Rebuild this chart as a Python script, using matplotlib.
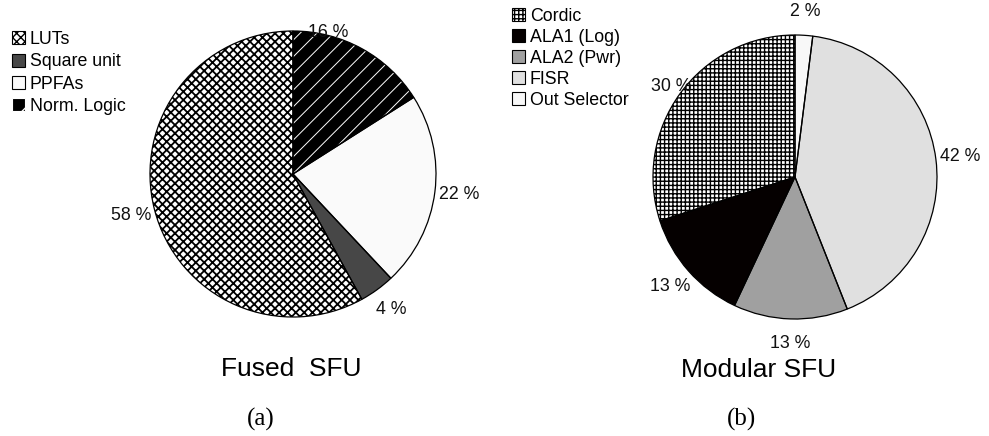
import numpy as np
import matplotlib.pyplot as plt
from matplotlib.patches import Patch

plt.rcParams['font.family'] = ['Liberation Sans', 'DejaVu Sans']
plt.rcParams['hatch.linewidth'] = 1.0

# data (counter-clockwise from 12 o'clock)
fused_labels = ['LUTs', 'Square unit', 'PPFAs', 'Norm. Logic']
fused_vals = [58, 4, 22, 16]
modular_labels = ['Cordic', 'ALA1 (Log)', 'ALA2 (Pwr)', 'FISR', 'Out Selector']
modular_vals = [30, 13, 13, 42, 2]

# (face, hatch, hatch colour, hatch width)
fused_style = [('white', 'xxxx', 'black', 1.3), ('#474747', None, 'black', 1.0),
               ('#fafafa', None, 'black', 1.0), ('black', '//', 'white', 0.7)]
modular_style = [('white', '++++', 'black', 1.0), ('#050000', None, 'black', 1.0),
                 ('#a0a0a0', None, 'black', 1.0), ('#e0e0e0', None, 'black', 1.0),
                 ('#f8f8f8', None, 'black', 1.0)]

W, H = 989, 436
fig = plt.figure(figsize=(W / 100, H / 100), dpi=100)


def make_ax(cx, cy, r):
    return fig.add_axes([(cx - r) / W, (H - cy - r) / H, 2 * r / W, 2 * r / H])


def draw_pie(ax, vals, styles, label_tweaks):
    fc = [s[0] for s in styles]
    wedges, _ = ax.pie(vals, colors=fc, startangle=90, counterclock=True,
                       wedgeprops=dict(linewidth=0))
    for w, (f, h, hc, hw) in zip(wedges, styles):
        w.set_edgecolor(hc)
        w.set_hatch(h)
        if hasattr(w, 'set_hatch_linewidth'):
            w.set_hatch_linewidth(hw)
        w.set_clip_on(False)
    outline, _ = ax.pie(vals, startangle=90, counterclock=True,
                        wedgeprops=dict(fill=False, edgecolor='black', linewidth=0.9))
    for w in outline:
        w.set_clip_on(False)
    total = sum(vals)
    start = 90.0
    for i, v in enumerate(vals):
        ang = start + 360.0 * v / total / 2
        start += 360.0 * v / total
        da, rr = label_tweaks.get(i, (0, 1.17))
        a = np.deg2rad(ang + da)
        ax.text(rr * np.cos(a), rr * np.sin(a), f'{v} %', ha='center', va='center',
                fontsize=12.8, color='#111111')
    ax.set_xlim(-1, 1)
    ax.set_ylim(-1, 1)
    ax.set_aspect('equal')
    ax.axis('off')


ax1 = make_ax(293, 174, 143)
draw_pie(ax1, fused_vals, fused_style, {3: (15, 1.02)})
ax2 = make_ax(795, 177, 142)
draw_pie(ax2, modular_vals, modular_style, {0: (0, 1.08)})


def handles(labels, styles):
    out = []
    for l, (f, h, hc, hw) in zip(labels, styles):
        if h == '//':
            h = '/'
        out.append(Patch(facecolor=f, edgecolor='black' if h is None else hc,
                         hatch=h, linewidth=0.8, label=l))
    return out


leg_kw = dict(frameon=False, fontsize=12.8, handlelength=0.75, handleheight=0.75,
              handletextpad=0.25, borderpad=0, borderaxespad=0)
fig.legend(handles=handles(fused_labels, fused_style), loc='upper left',
           bbox_to_anchor=(12 / W, 1 - 31 / H), labelspacing=0.3, **leg_kw)
fig.legend(handles=handles(modular_labels, modular_style), loc='upper left',
           bbox_to_anchor=(512 / W, 1 - 8 / H), labelspacing=0.22, **leg_kw)

fig.text(291 / W, 1 - 369 / H, 'Fused  SFU', ha='center', va='center', fontsize=19)
fig.text(759 / W, 1 - 370 / H, 'Modular SFU', ha='center', va='center', fontsize=19)
fig.text(261 / W, 1 - 419 / H, '(a)', ha='center', va='center', fontsize=18,
         family='Liberation Serif')
fig.text(742 / W, 1 - 419 / H, '(b)', ha='center', va='center', fontsize=18,
         family='Liberation Serif')

fig.savefig('out.png', dpi=100)
